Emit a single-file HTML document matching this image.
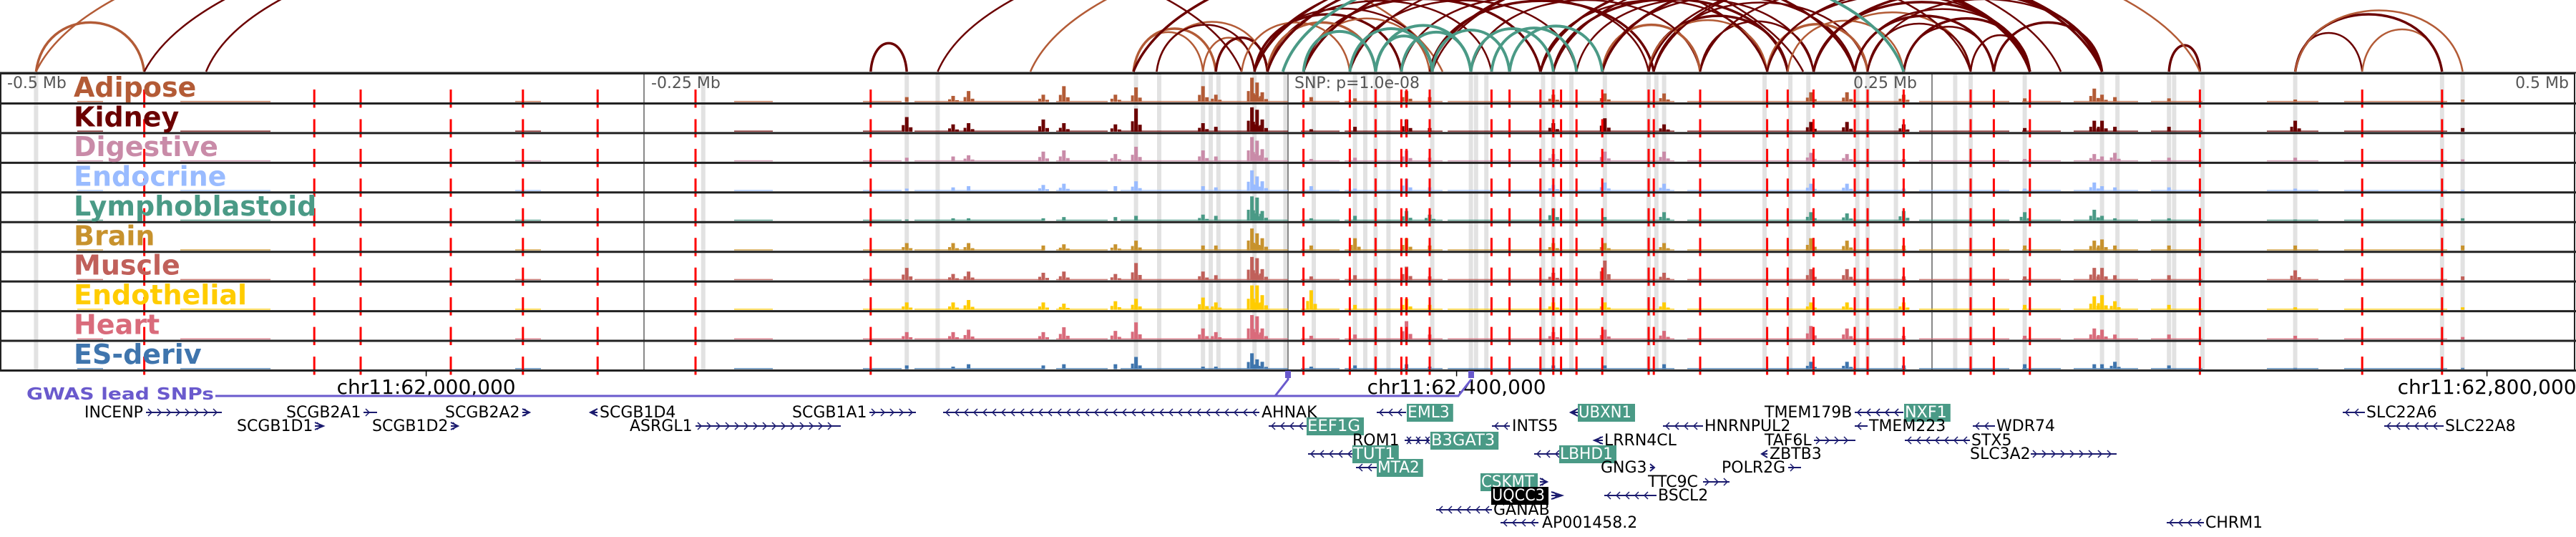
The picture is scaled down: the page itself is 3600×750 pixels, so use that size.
<!DOCTYPE html>
<html><head><meta charset="utf-8"><style>
html,body{margin:0;padding:0;background:#fff;}
svg{display:block;font-family:"DejaVu Sans","Liberation Sans",sans-serif;}
</style></head><body>
<svg id="fig" width="3600" height="750" viewBox="0 0 3600 750" xmlns="http://www.w3.org/2000/svg">
<defs><clipPath id="arcclip"><rect x="0" y="0" width="3600" height="101"/></clipPath></defs>
<g id="bands"></g>
<g id="tracks"></g>
<g id="arcs" clip-path="url(#arcclip)"></g>
<g id="ruler"></g>
<g id="genes"></g>
</svg>
<script>
// ---- data ----
const trackNames = ["Adipose","Kidney","Digestive","Endocrine","Lymphoblastoid","Brain","Muscle","Endothelial","Heart","ES-deriv"];
const trackColors = ["#b35b36","#6b0000","#c98ba8","#99bbff","#4a9a86","#c7922d","#c0605a","#ffcc00","#d96b7b","#3f75ad"];
const peakKb = [-148,-130,-124,-95,-87,-67,-59,-33,-28,-14,-12,-10,9,26,46,55,103,123,146,203,217,239,286,313,316,321,342,391,456];
const adipose = [.2,.25,.45,.3,.65,.3,.6,.65,.3,1,.8,.4,.2,.15,.45,.2,.3,.35,.35,.4,.4,.3,.15,.55,.3,.2,.15,.1,.1];
const kidney = [.6,.3,.35,.5,.35,.3,.95,.35,.2,1,.9,.5,.1,.2,.5,.15,.35,.55,.3,.4,.4,.3,.15,.45,.45,.2,.2,.45,.15];
const digestive = [.15,.2,.25,.4,.45,.3,.6,.45,.2,1,.85,.5,.1,.15,.45,.15,.3,.4,.4,.35,.3,.1,.1,.3,.2,.35,.15,.15,.08];
const endocrine = [.1,.15,.2,.25,.3,.2,.4,.2,.15,.85,.6,.4,.2,.1,.5,.15,.25,.35,.3,.3,.3,.1,.1,.35,.2,.15,.15,.1,.05];
const lympho = [.05,.1,.1,.1,.15,.15,.2,.25,.2,1,.95,.4,.1,.2,.4,.25,.5,.15,.35,.35,.3,.4,.35,.45,.2,.1,.1,.05,.1];
const brain = [.3,.3,.3,.2,.25,.25,.4,.2,.2,.9,.7,.5,.2,.5,.5,.2,.3,.3,.3,.5,.4,.2,.2,.4,.45,.2,.2,.2,.2];
const muscle = [.5,.25,.35,.3,.35,.25,.7,.35,.2,.95,.9,.45,.15,.2,.55,.15,.3,.8,.3,.45,.45,.15,.15,.5,.5,.2,.2,.4,.15];
const endothelial = [.3,.3,.4,.3,.25,.35,.45,.5,.3,1,1,.6,.8,.2,.45,.2,.3,.3,.3,.3,.3,.3,.2,.55,.6,.35,.2,.1,.1];
const heart = [.3,.3,.4,.3,.5,.35,.7,.45,.3,1,.95,.45,.15,.2,.75,.2,.3,.4,.35,.55,.45,.15,.15,.45,.4,.2,.2,.15,.1];
const esDeriv = [.15,.1,.2,.15,.2,.2,.5,.1,.1,.65,.4,.3,.1,.15,.2,.1,.15,.15,.2,.3,.3,.15,.2,.2,.2,.3,.15,.05,.05];
const trackValues = [adipose,kidney,digestive,endocrine,lympho,brain,muscle,endothelial,heart,esDeriv];
const baselineRanges = [[-470,-460],[-430,-395],[-300,-290],[-215,-200],[-165,-150],[-145,-95],[-90,-70],[-65,-20],[-20,0],[5,20],[22,60],[62,100],[100,150],[155,240],[245,280],[285,300],[305,330],[335,355],[380,400],[410,450]];
const snpKb = [-444,-378,-360,-325,-297,-268,-230,-162,6,24,34,44,46,55,79,86,98,103,106,112,122,140,142,160,186,194,204,220,225,239,265,274,288,354,417,448];
const bandKb = [-486,-227,-148,-136,-59,-50,-33,-30,-27,-19,-13,-8,-1,10,26,30,34,39,56,71,73,77,99,103,110,123,140,143,146,185,195,202,221,225,236,259,265,286,316,322,342,344,355,391,448,456];
const axisKb = [-250,0,250];
const axisLabels = ["-0.5 Mb","-0.25 Mb","SNP: p=1.0e-08","0.25 Mb","0.5 Mb"];
const arcStart = [-486,-486,-444,-162,-136,-60,-60,-51,-33,-28,-51,-420,-13,-13,-8,6,24,44,55,71,98,103,112,122,140,142,160,186,194,140,122,86,-18,-8,6,204,220,239,265,274,225,-13,6,56,103,122,140,186,204,220,160,239,265,186,204,225,122,-60,391,417,391,391,342,342,-100,-13,-8,24,55,98,142,6,24,34,34,44,56,71,79,86,-2];
const arcEnd   = [-444,60,200,-148,300,-33,-28,-8,-13,-8,-13,-18,44,56,79,98,112,140,142,160,186,194,204,220,194,225,204,225,239,186,160,122,24,34,55,265,274,274,288,316,265,288,288,288,288,288,288,288,288,288,288,288,288,316,316,316,316,316,417,448,448,456,354,354,354,186,220,239,265,288,316,34,56,56,71,71,86,103,112,122,239,103];
const arcColor = [1,1,0,0,0,1,1,1,1,0,0,0,0,0,0,0,0,0,0,0,0,0,0,0,0,0,0,1,1,1,1,1,1,1,1,1,0,0,1,0,0,0,0,0,0,0,0,0,0,0,0,0,0,0,0,0,0,0,0,1,0,1,1,0,1,0,0,0,0,0,0,2,2,2,2,2,2,2,2,2,2,3];

// ---- scales ----
const X = kb => 1800 + kb*3.6;
const TOP = 103, TH = 41.45;
const NS = "http://www.w3.org/2000/svg";
function mk(tag, attrs, parent){const e=document.createElementNS(NS,tag);for(const k in attrs)e.setAttribute(k,attrs[k]);parent.appendChild(e);return e;}
const gB=document.getElementById('bands'),gT=document.getElementById('tracks'),gA=document.getElementById('arcs'),gR=document.getElementById('ruler'),gG=document.getElementById('genes');
const BOT = TOP + TH*10;

bandKb.forEach(kb=>{const r=mk('rect',{x:X(kb)-3,y:TOP,width:6,height:BOT-TOP,fill:'#e2e2e2'},gB);

});
axisKb.forEach(kb=>{const l=mk('line',{x1:X(kb),x2:X(kb),y1:TOP,y2:BOT,stroke:'#888','stroke-width':2},gB);

});

trackNames.forEach((name,i)=>{
  const top=TOP+i*TH, base=top+TH-2, maxH=34;
  const g=mk('g',{},gT);
  
  
  baselineRanges.forEach(r=>{const s=mk('rect',{x:X(r[0]),y:base-1.5,width:X(r[1])-X(r[0]),height:1.5,fill:trackColors[i],opacity:0.8},g);
    
    });
  peakKb.forEach((kb,j)=>{const h=trackValues[i][j]*maxH;
    const b=mk('rect',{x:X(kb)-2.5,y:base-h,width:5,height:h,fill:trackColors[i]},g);
    
    
    if(h>8){const b2=mk('rect',{x:X(kb)-7,y:base-h*0.45,width:4,height:h*0.45,fill:trackColors[i]},g);
      
      
      const b3=mk('rect',{x:X(kb)+3,y:base-h*0.3,width:5,height:h*0.3,fill:trackColors[i]},g);
      
      }
  });
  snpKb.forEach(kb=>{const l=mk('line',{x1:X(kb),x2:X(kb),y1:top+22,y2:top+TH+6,stroke:'#ff0000','stroke-width':3},g);
    
    });
  const bl=mk('line',{x1:0,x2:3600,y1:top+TH,y2:top+TH,stroke:'#222','stroke-width':3},g);
  
  
  const t=mk('text',{x:103,y:top+32,'font-size':38,'font-weight':'bold',fill:trackColors[i]},g);
  t.textContent=name;
  
  
});
const box=mk('rect',{x:1,y:TOP,width:3597,height:BOT-TOP,fill:'none',stroke:'#222','stroke-width':2},gT);


const axX=[10,910,1809,2590,3590];
axisLabels.forEach((s,i)=>{const t=mk('text',{x:axX[i],y:123,'font-size':22,fill:'#555','text-anchor':i==4?'end':'start'},gT);
  t.textContent=s;
  
  });

arcStart.forEach((s,i)=>{
  const x1=X(s),x2=X(arcEnd[i]),span=Math.abs(x2-x1),h=5.6*Math.sqrt(span);
  const col=["#6b0000","#b35b36","#4a9a86","#000000"][arcColor[i]];
  const p=mk('path',{d:`M${x1},100 C${x1+span*0.08},${100-h*1.33} ${x2-span*0.08},${100-h*1.33} ${x2},100`,fill:'none',stroke:col,'stroke-width':arcColor[i]==2?4:(i%3==0?3.5:2.5)},gA);
  
  
});
const tl=mk('line',{x1:0,x2:3600,y1:101.5,y2:101.5,stroke:'#222','stroke-width':2},gR);



const rulerKb=[-334,66,466];
const rulerLabels=["chr11:62,000,000","chr11:62,400,000","chr11:62,800,000"];
rulerKb.forEach((kb,i)=>{const x=X(kb)-2;
  const l=mk('line',{x1:x,x2:x,y1:BOT,y2:BOT+8,stroke:'#000','stroke-width':1.5},gR);
  
  
  const t=mk('text',{x:x,y:550,'font-size':28,'text-anchor':'middle',fill:'#000'},gR);
  t.textContent=rulerLabels[i];
  
  });
const gw=mk('text',{x:37,y:558,'font-size':23,'font-weight':'bold',fill:'#6a5acd',textLength:262,lengthAdjust:'spacingAndGlyphs'},gR);
gw.textContent="GWAS lead SNPs";


const pl=mk('polyline',{points:"301,553 1782,553 1800,530 1800,519 1800,530 1782,553 2038,553 2056,530",fill:'none',stroke:'#6a5acd','stroke-width':3},gR);


[1800,2056].forEach(x=>{const r=mk('rect',{x:x-4,y:518,width:8,height:10,fill:'#6a5acd'},gR);
  
  });

const genes=[
["INCENP",118,0,204,310,1,0],["SCGB2A1",400,0,508,527,1,0],["SCGB2A2",622,0,730,740,1,0],["SCGB1D4",838,0,825,835,-1,0],
["SCGB1A1",1107,0,1215,1280,1,0],["AHNAK",1763,0,1318,1760,-1,0],["EML3",1967,0,1924,1965,-1,1],["UBXN1",2206,0,2195,2205,-1,1],
["TMEM179B",2466,0,2592,2660,-1,0],["NXF1",2662,0,2592,2660,-1,1],["SLC22A6",3307,0,3274,3305,-1,0],
["SCGB1D1",331,1,440,452,1,0],["SCGB1D2",520,1,630,640,1,0],["ASRGL1",880,1,972,1175,1,0],["EEF1G",1827,1,1773,1826,-1,1],
["INTS5",2113,1,2085,2110,-1,0],["HNRNPUL2",2382,1,2324,2380,-1,0],["TMEM223",2612,1,2592,2610,-1,0],["WDR74",2790,1,2757,2788,-1,0],["SLC22A8",3417,1,3332,3415,-1,0],
["ROM1",1890,2,1963,1998,1,0],["B3GAT3",2000,2,1963,1998,-1,1],["LRRN4CL",2242,2,2228,2240,-1,0],["TAF6L",2466,2,2535,2593,1,0],["STX5",2755,2,2662,2753,-1,0],
["TUT1",1891,3,1828,1890,-1,1],["LBHD1",2180,3,2144,2179,-1,1],["ZBTB3",2473,3,2462,2470,-1,0],["SLC3A2",2753,3,2838,2958,1,0],
["MTA2",1925,4,1895,1924,-1,1],["GNG3",2237,4,2306,2312,1,0],["POLR2G",2406,4,2499,2517,1,0],
["CSKMT",2070,5,2152,2162,1,1],["TTC9C",2303,5,2380,2417,1,0],
["UQCC3",2085,6,2168,2183,1,2],["BSCL2",2317,6,2242,2315,-1,0],
["GANAB",2087,7,2007,2085,-1,0],
["AP001458.2",2155,8,2097,2150,-1,0],["CHRM1",3082,8,3028,3080,-1,0]
];
const rowY=[583,602,622,641,660,680,699,719,737];
const navy="#1a1a6e";
genes.forEach(g=>{
  const [name,tx,row,l1,l2,dir,st]=g, y=rowY[row];
  const grp=mk('g',{},gG);
  
  
  const cy=y-7;
  mk('line',{x1:l1,x2:l2,y1:cy,y2:cy,stroke:navy,'stroke-width':2},grp);
  for(let x=l1+6;x<l2-2;x+=13){
    const d=dir>0?`M${x-3},${cy-5} L${x+2},${cy} L${x-3},${cy+5}`:`M${x+3},${cy-5} L${x-2},${cy} L${x+3},${cy+5}`;
    mk('path',{d:d,fill:'none',stroke:navy,'stroke-width':1.5},grp);
  }
  if(l2-l1<16){
    const d=dir>0?`M${l1},${cy-5} L${l2},${cy} L${l1},${cy+5}`:`M${l2},${cy-5} L${l1},${cy} L${l2},${cy+5}`;
    mk('path',{d:d,fill:'none',stroke:navy,'stroke-width':2},grp);
  }
  const w=name.length*15.2+4;
  if(st>0) mk('rect',{x:tx-1,y:y-19,width:w,height:25,fill:st==1?'#4a9a86':'#000'},grp);
  const t=mk('text',{x:tx,y:y,'font-size':22,fill:st>0?'#fff':'#000'},grp);
  if(st>0){t.setAttribute('textLength',w-6);t.setAttribute('lengthAdjust','spacingAndGlyphs');}
  t.textContent=name;
});
</script>
</body></html>
